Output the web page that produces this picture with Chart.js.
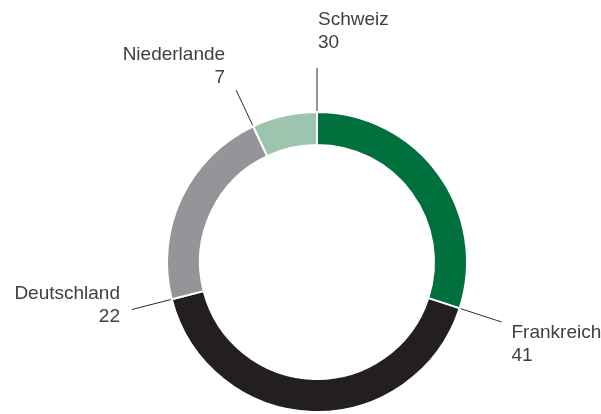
<!DOCTYPE html>
<html>
<head>
<meta charset="utf-8">
<script src="https://cdn.jsdelivr.net/npm/chart.js@4.4.0/dist/chart.umd.min.js"></script>
<style>
  html, body { margin: 0; padding: 0; background: #fff; }
  #wrap { width: 601px; height: 414px; }
</style>
</head>
<body>
<div id="wrap"><canvas id="donut" width="601" height="414"></canvas></div>
<script>
const labels = ['Schweiz', 'Frankreich', 'Deutschland', 'Niederlande']
const values = [30, 41, 22, 7]
const colors = ['#00703c', '#231f20', '#939598', '#9dc4ae']

// leader line length and label offset from the end of the line
const labelPlace = [
    {len: 44, align: 'left', dx: 1, dy: -43},
    {len: 44, align: 'left', dx: 10, dy: 16},
    {len: 41, align: 'right', dx: -12, dy: -10},
    {len: 40, align: 'right', dx: -11, dy: -30}
]

const leaderLines = {
    id: 'leaderLines',
    afterDatasetsDraw(chart) {
        const ctx = chart.ctx
        const arcs = chart.getDatasetMeta(0).data
        ctx.save()
        arcs.forEach((arc, i) => {
            const p = labelPlace[i]
            const a = arc.startAngle
            const r = arc.outerRadius
            const x1 = arc.x + Math.cos(a) * (r + 1)
            const y1 = arc.y + Math.sin(a) * (r + 1)
            const x2 = arc.x + Math.cos(a) * (r + p.len)
            const y2 = arc.y + Math.sin(a) * (r + p.len)
            ctx.strokeStyle = '#2b2b2b'
            ctx.lineWidth = 1
            ctx.beginPath()
            ctx.moveTo(x1, y1)
            ctx.lineTo(x2, y2)
            ctx.stroke()

            ctx.fillStyle = '#404040'
            ctx.font = '19px "Liberation Sans", Arial, sans-serif'
            ctx.textAlign = p.align
            ctx.textBaseline = 'alphabetic'
            ctx.fillText(labels[i], x2 + p.dx, y2 + p.dy)
            ctx.fillText(String(values[i]), x2 + p.dx, y2 + p.dy + 23)
        })
        ctx.restore()
    }
}

new Chart(document.getElementById('donut'), {
    type: 'doughnut',
    data: {
        labels: labels,
        datasets: [{
            data: values,
            backgroundColor: colors,
            borderColor: '#ffffff',
            borderWidth: 2
        }]
    },
    options: {
        responsive: false,
        animation: false,
        cutout: '78%',
        layout: {padding: {top: 111, bottom: 1, left: 166, right: 133}},
        plugins: {
            legend: {display: false},
            tooltip: {enabled: false}
        }
    },
    plugins: [leaderLines]
})
</script>
</body>
</html>
